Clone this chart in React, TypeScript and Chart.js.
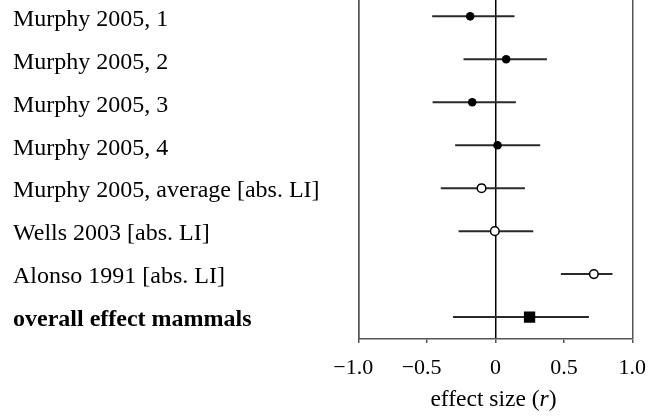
import React, { useEffect, useRef } from 'react';
import { Chart, registerables } from 'chart.js';

Chart.register(...registerables);

const studyLabels = [
  'Murphy 2005, 1',
  'Murphy 2005, 2',
  'Murphy 2005, 3',
  'Murphy 2005, 4',
  'Murphy 2005, average [abs. LI]',
  'Wells 2003 [abs. LI]',
  'Alonso 1991 [abs. LI]',
  'overall effect mammals',
];
const effectSizes = [-0.185, 0.078, -0.17, 0.015, -0.102, -0.005, 0.719, 0.249];
const lowerCI = [-0.463, -0.234, -0.46, -0.295, -0.4, -0.27, 0.478, -0.311];
const upperCI = [0.139, 0.376, 0.149, 0.327, 0.215, 0.276, 0.855, 0.683];
const markerKinds = ['filled', 'filled', 'filled', 'filled', 'open', 'open', 'open', 'summary'];
const xTickValues = [-1, -0.5, 0, 0.5, 1];
const xTickLabels = ['−1.0', '−0.5', '0', '0.5', '1.0'];
const xTitlePre = 'effect size (';
const xTitleVar = 'r';
const xTitlePost = ')';

const SERIF = "'Liberation Serif', 'Times New Roman', Times, serif";

const xTitlePlugin = {
  id: 'xTitleMixed',
  afterDraw(chart: any) {
    const { ctx, chartArea } = chart;
    ctx.save();
    ctx.fillStyle = '#000';
    ctx.textBaseline = 'alphabetic';
    ctx.textAlign = 'left';
    const normal = `23.5px ${SERIF}`;
    const italic = `italic 23.5px ${SERIF}`;
    ctx.font = normal;
    const w1 = ctx.measureText(xTitlePre).width;
    const w3 = ctx.measureText(xTitlePost).width;
    ctx.font = italic;
    const w2 = ctx.measureText(xTitleVar).width;
    const total = w1 + w2 + w3;
    const cx = (chartArea.left + chartArea.right) / 2 - 2;
    let x = cx - total / 2;
    const y = chartArea.bottom + 67;
    ctx.font = normal;
    ctx.fillText(xTitlePre, x, y);
    x += w1;
    ctx.font = italic;
    ctx.fillText(xTitleVar, x, y);
    x += w2;
    ctx.font = normal;
    ctx.fillText(xTitlePost, x, y);
    ctx.restore();
  },
};

export default function App() {
  const canvasRef = useRef<HTMLCanvasElement | null>(null);

  useEffect(() => {
    document.body.style.margin = '0';
    const canvas = canvasRef.current;
    if (!canvas) return;

    const barDatasets = studyLabels.map((_, i) => ({
      type: 'scatter' as const,
      data: [
        { x: lowerCI[i], y: i + 1 },
        { x: upperCI[i], y: i + 1 },
      ],
      showLine: true,
      borderColor: '#2a2a2a',
      borderWidth: 2,
      pointRadius: 0,
      order: 1,
    }));

    const markerDataset = {
      type: 'scatter' as const,
      data: effectSizes.map((v, i) => ({ x: v, y: i + 1 })),
      showLine: false,
      pointStyle: markerKinds.map((k) => (k === 'summary' ? 'rect' : 'circle')),
      pointRadius: markerKinds.map((k) => (k === 'summary' ? 8 : 4.3)),
      pointBackgroundColor: markerKinds.map((k) => (k === 'open' ? '#fff' : '#000')),
      pointBorderColor: '#000',
      pointBorderWidth: markerKinds.map((k) => (k === 'open' ? 1.5 : 0)),
      order: 0,
    };

    const chart = new Chart(canvas, {
      type: 'scatter',
      data: { datasets: [markerDataset, ...barDatasets] as any },
      plugins: [xTitlePlugin],
      options: {
        animation: false,
        responsive: false,
        devicePixelRatio: 1,
        layout: { autoPadding: false, padding: { left: 13, right: 29.7, top: 0, bottom: 0 } },
        plugins: {
          legend: { display: false },
          tooltip: { enabled: false },
          title: { display: false },
        },
        scales: {
          x: {
            type: 'linear',
            min: -1,
            max: 1,
            afterBuildTicks: (s: any) => {
              s.ticks = xTickValues.map((v) => ({ value: v }));
            },
            afterFit: (s: any) => {
              s.height = 80;
              s.paddingLeft = 0;
              s.paddingRight = 0;
            },
            ticks: {
              autoSkip: false,
              maxRotation: 0,
              padding: 12,
              color: '#000',
              font: { family: SERIF, size: 22 },
              callback: (_v: any, i: number) => {
                const l = xTickLabels[i];
                return l.startsWith('−') ? l + '\u2002' : l;
              },
            },
            grid: {
              drawTicks: true,
              tickLength: 4,
              tickColor: '#555',
              color: (ctx: any) => {
                const v = ctx.tick ? ctx.tick.value : null;
                if (v === 0) return '#000';
                if (v === 1 || v === -1) return '#555';
                return 'rgba(0,0,0,0)';
              },
              lineWidth: 1.5,
            },
            border: { display: true, color: '#555', width: 1.5 },
          },
          y: {
            type: 'linear',
            reverse: true,
            min: 0.62,
            max: 8.51,
            afterBuildTicks: (s: any) => {
              s.ticks = studyLabels.map((_, i) => ({ value: i + 1 }));
            },
            afterFit: (s: any) => {
              s.width = 358.7 - 13;
              s.paddingTop = 0;
              s.paddingBottom = 0;
            },
            ticks: {
              autoSkip: false,
              crossAlign: 'far',
              padding: 0,
              labelOffset: 3,
              color: '#000',
              font: (ctx: any) => ({
                family: SERIF,
                size: 24,
                weight: ctx.index === studyLabels.length - 1 ? 'bold' : 'normal',
              }),
              callback: (v: any) => studyLabels[Math.round(Number(v)) - 1] ?? '',
            },
            grid: { display: false, drawTicks: false },
            border: { display: true, color: '#555', width: 1.5 },
          },
        },
      } as any,
    });

    return () => {
      chart.destroy();
    };
  }, []);

  return (
    <div style={{ width: 662, height: 419, position: 'relative' }}>
      <canvas ref={canvasRef} width={662} height={419} style={{ width: 662, height: 419 }} />
    </div>
  );
}
